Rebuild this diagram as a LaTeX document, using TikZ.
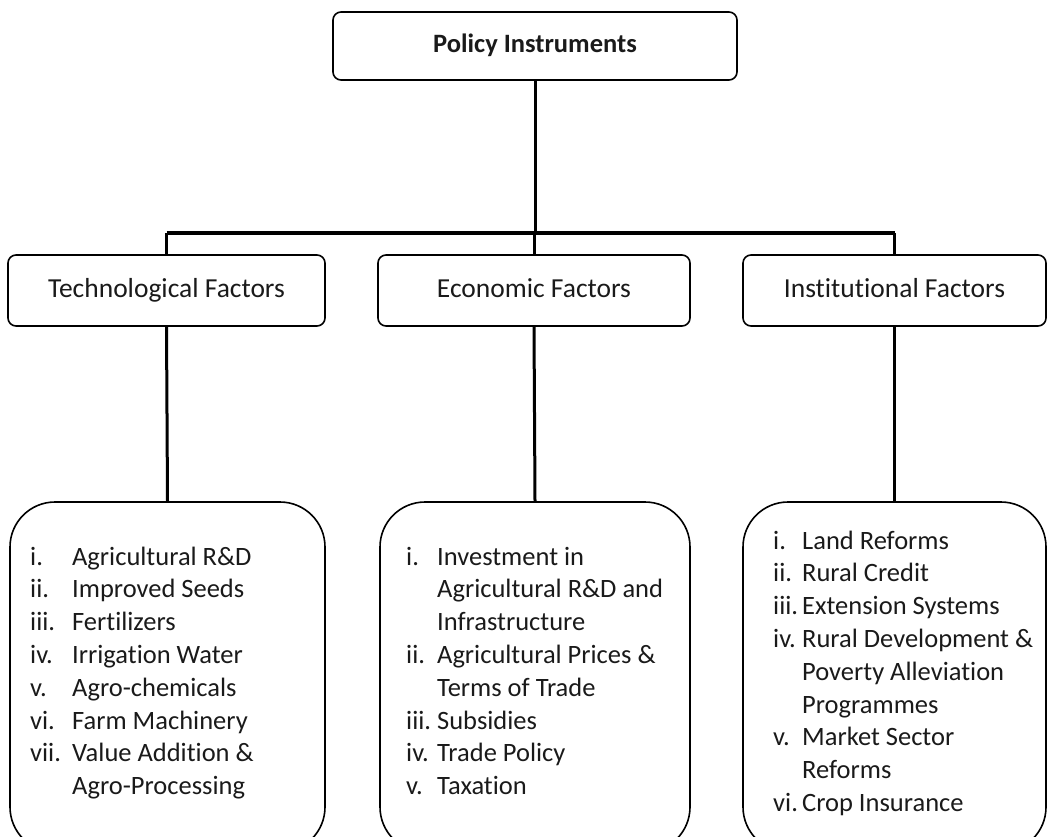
\documentclass[tikz,border=0pt]{standalone}
\usepackage{fontspec}
\setmainfont{Carlito}[Ligatures={NoCommon}]
\usetikzlibrary{positioning}
\definecolor{ink}{HTML}{1A1A1A}
\tikzset{
  x=1pt, y=-1pt,
  hbox/.style={draw=black, line width=1.6pt, rounded corners=8pt, inner sep=0pt, text=ink,
    font=\fontsize{27.5}{32}\selectfont, text height=17pt, text depth=4pt},
  lbox/.style={draw=black, line width=1.6pt, rounded corners=45pt, inner sep=0pt},
  conn/.style={draw=black, line width=3pt},
  bar/.style={draw=black, line width=4pt},
  listtext/.style={anchor=north west, inner sep=0pt, text=ink, font=\fontsize{26.5}{32.8}\selectfont},
}
\begin{document}
\begin{tikzpicture}
\useasboundingbox (0,0) rectangle (1048,836);
\clip (0,0) rectangle (1048,836);
% top
\node[hbox, minimum width=404pt, minimum height=68pt, font=\fontsize{26.5}{32}\selectfont\bfseries] (top) at (535,46) {Policy Instruments};
% middle
\node[hbox, minimum width=317pt, minimum height=71pt] (tech) at (166.5,290.5) {Technological Factors};
\node[hbox, minimum width=312pt, minimum height=71pt] (econ) at (534,290.5) {Economic Factors};
\node[hbox, minimum width=303pt, minimum height=71pt] (inst) at (894.5,290.5) {Institutional Factors};
% bottom boxes
\node[lbox, minimum width=315pt, minimum height=350pt] (techb) at (167.5,677) {};
\node[lbox, minimum width=310pt, minimum height=350pt] (econb) at (535,677) {};
\node[lbox, minimum width=303pt, minimum height=350pt] (instb) at (894.5,677) {};
% lists
\node[listtext] (techl) at (30,542) {\begin{tabular}{@{}p{42pt}@{}l@{}}
i. & Agricultural R\&D\\
ii. & Improved Seeds\\
iii. & Fertilizers\\
iv. & Irrigation Water\\
v. & Agro-chemicals\\
vi. & Farm Machinery\\
vii. & Value Addition \&\\
 & Agro-Processing
\end{tabular}};
\node[listtext] (econl) at (406,542) {\begin{tabular}{@{}p{31pt}@{}l@{}}
i. & Investment in\\
 & Agricultural R\&D and\\
 & Infrastructure\\
ii. & Agricultural Prices \&\\
 & Terms of Trade\\
iii. & Subsidies\\
iv. & Trade Policy\\
v. & Taxation
\end{tabular}};
\node[listtext] (instl) at (773,526) {\begin{tabular}{@{}p{29pt}@{}l@{}}
i. & Land Reforms\\
ii. & Rural Credit\\
iii. & Extension Systems\\
iv. & Rural Development \&\\
 & Poverty Alleviation\\
 & Programmes\\
v. & Market Sector\\
 & Reforms\\
vi. & Crop Insurance
\end{tabular}};
% connectors
\coordinate (j) at (top.south |- 0,233);
\draw[conn] (top.south) -- (j);
\draw[bar] (tech.north |- j) -- (inst.north |- j);
\draw[conn] (tech.north |- j) -- (tech.north);
\draw[conn] (econ.north |- j) -- (econ.north);
\draw[conn] (inst.north |- j) -- (inst.north);
\draw[conn] (tech.south) -- (techb.north);
\draw[conn] (econ.south) -- (econb.north);
\draw[conn] (inst.south) -- (instb.north);
\end{tikzpicture}
\end{document}
